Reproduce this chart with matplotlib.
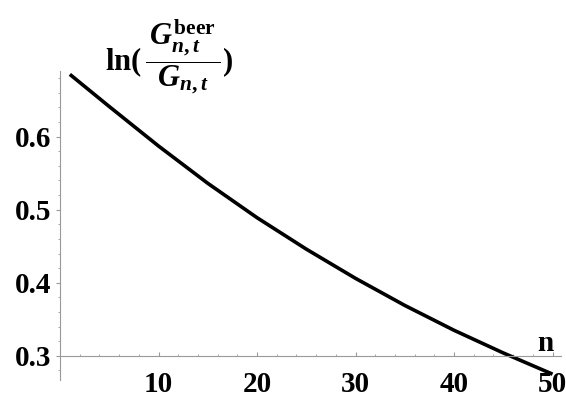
import matplotlib
matplotlib.use('Agg')
import matplotlib.pyplot as plt
from matplotlib.ticker import MultipleLocator

# log ratio of the two G quantities against n
n = [1, 5, 10, 15, 20, 25, 30, 35, 40, 45, 50]
log_ratio = [0.685, 0.641, 0.587, 0.536, 0.489, 0.446, 0.406, 0.369, 0.335, 0.304, 0.275]

x_ticks = [10, 20, 30, 40, 50]
y_ticks = [0.3, 0.4, 0.5, 0.6]

plt.rcParams['font.family'] = ['Liberation Serif', 'DejaVu Serif']
plt.rcParams['font.weight'] = 'bold'
plt.rcParams['mathtext.fontset'] = 'custom'
plt.rcParams['mathtext.rm'] = 'Liberation Serif:bold'
plt.rcParams['mathtext.it'] = 'Liberation Serif:bold:italic'
plt.rcParams['mathtext.bf'] = 'Liberation Serif:bold'

fig = plt.figure(figsize=(5.66, 4.0), dpi=100)
ax = fig.add_axes([60 / 566, 20 / 400, 501 / 566, 309.3 / 400])

ax.plot(n, log_ratio, color='black', lw=2.6, solid_capstyle='butt')

ax.set_xlim(0, 50.86)
ax.set_ylim(0.267, 0.690)

# axes cross at (0, 0.3)
ax.spines['top'].set_visible(False)
ax.spines['right'].set_visible(False)
ax.spines['bottom'].set_position(('data', 0.3))
for s in ('left', 'bottom'):
    ax.spines[s].set_color('#999999')
    ax.spines[s].set_linewidth(0.8)

ax.set_xticks(x_ticks)
ax.set_yticks(y_ticks)
ax.set_yticklabels(['%.1f' % v for v in y_ticks])
ax.xaxis.set_minor_locator(MultipleLocator(2))
ax.yaxis.set_minor_locator(MultipleLocator(0.02))

ax.tick_params(axis='x', which='major', direction='in', length=3, width=0.8,
               color='#999999', labelsize=21, pad=11)
ax.tick_params(axis='x', which='minor', direction='in', length=1.5, width=0.6,
               color='#999999')
ax.tick_params(axis='y', which='major', direction='out', length=3, width=0.8,
               color='#999999', labelsize=21, pad=3)
ax.tick_params(axis='y', which='minor', direction='out', length=1.5, width=0.6,
               color='#999999')
for lab in ax.get_xticklabels() + ax.get_yticklabels():
    lab.set_fontweight('bold')

ax.text(49.3, 0.3065, 'n', fontsize=21, fontweight='bold', ha='center', va='baseline')

fig.text(169 / 566, 1 - 57 / 400,
         r'$\mathrm{ln}(\:\dfrac{\,G^{\mathrm{beer}}_{n,t}\,}{G_{n,t}})$',
         fontsize=22, ha='center', va='center')

fig.savefig('out.png', dpi=100)
